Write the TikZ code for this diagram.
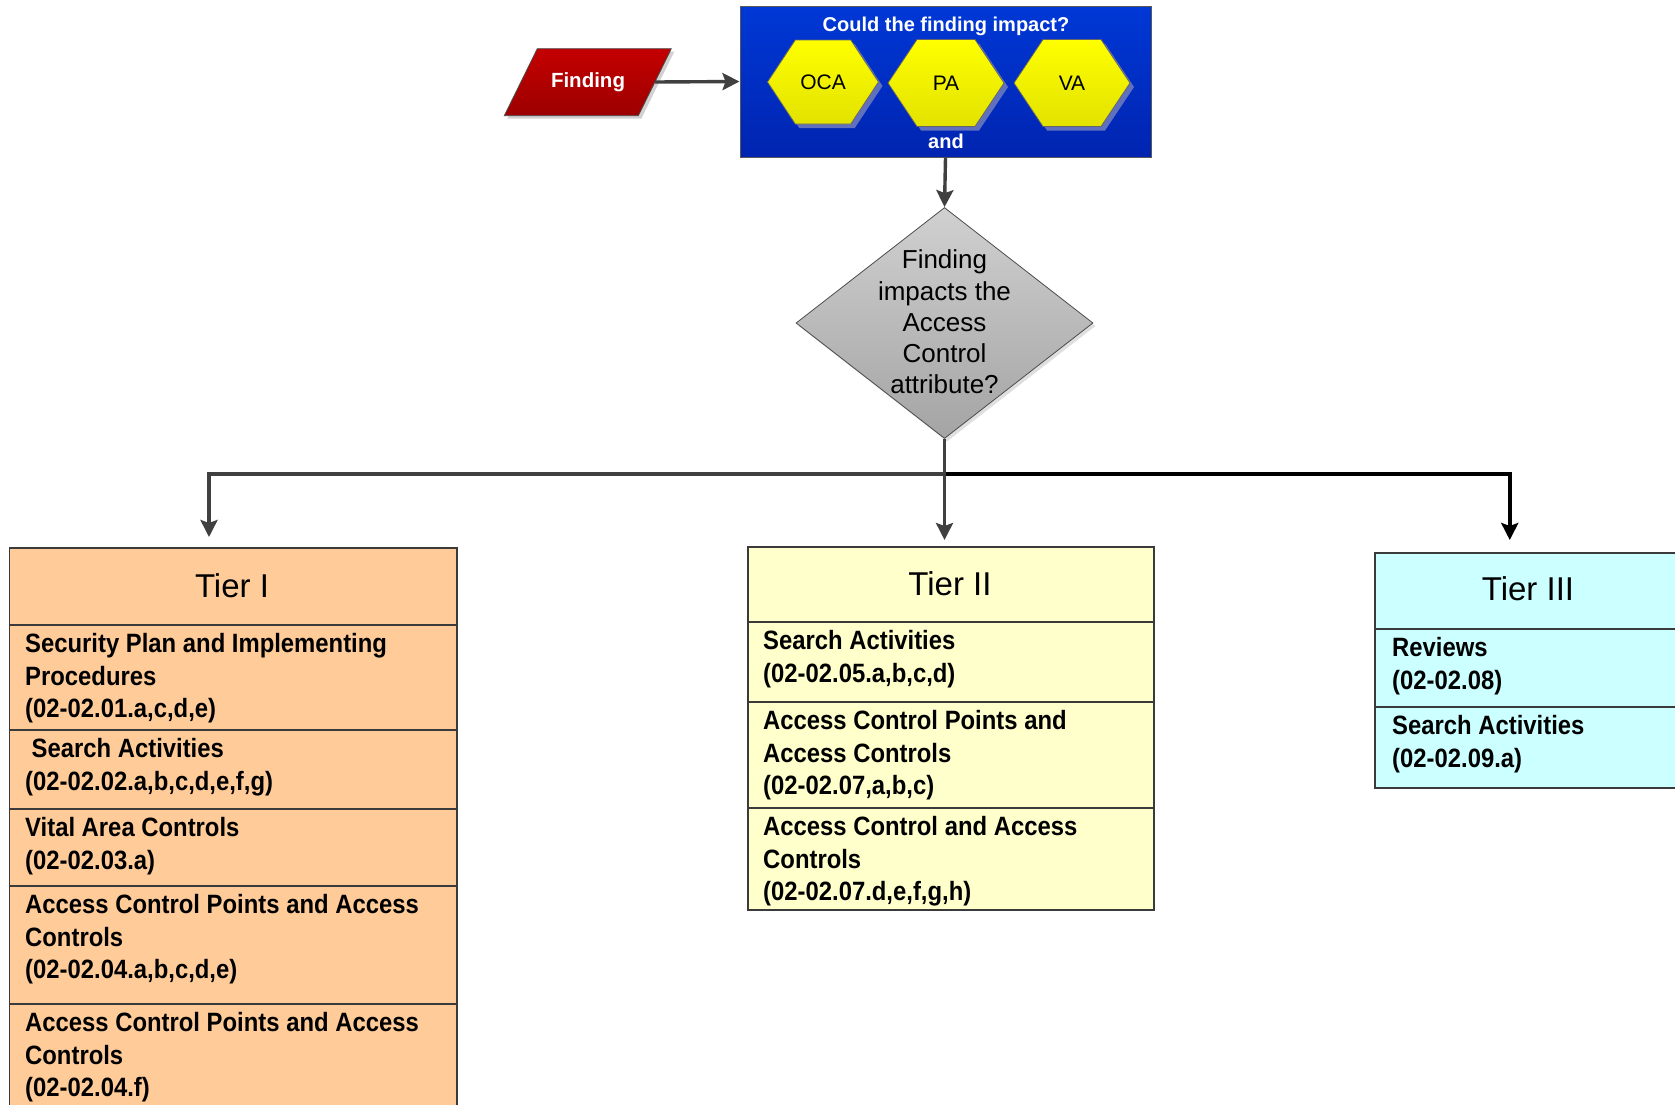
\documentclass[tikz,border=0pt]{standalone}
\usepackage{fontspec}
\setmainfont{Liberation Sans}
\newfontfamily\itemfont[FakeStretch=0.9]{Liberation Sans}
\usetikzlibrary{shapes.geometric,arrows.meta,calc}

\definecolor{peach}{HTML}{FFCC99}
\definecolor{paleyellow}{HTML}{FFFFCC}
\definecolor{palecyan}{HTML}{CCFFFF}
\definecolor{conngray}{HTML}{404040}
\definecolor{boxline}{HTML}{3A3A3A}
\definecolor{qbluetop}{RGB}{0,56,214}
\definecolor{qbluebot}{RGB}{0,36,176}
\definecolor{redtop}{RGB}{196,0,0}
\definecolor{redbot}{RGB}{156,0,0}
\definecolor{hexshadow}{RGB}{96,112,190}

\begin{document}
\begin{tikzpicture}[x=1pt,y=-1pt,
  conn/.style={draw=conngray,line width=3.4pt},
  arr/.style={conn,-{Stealth[length=17pt,width=17pt,inset=3pt]}},
  barr/.style={draw=black,line width=4pt,-{Stealth[length=17pt,width=17pt,inset=3pt]}},
  tierbox/.style={draw=boxline,line width=1.5pt,inner sep=0,anchor=north west},
  divider/.style={draw=boxline,line width=1.5pt},
  % the base anchor of a multi-line node sits on its last line
  itemtext/.style={font=\itemfont\bfseries\fontsize{26.5}{32.5}\selectfont,align=left,inner sep=0,anchor=base west},
  tiertitle/.style={font=\fontsize{33}{40}\selectfont,inner sep=0},
  hextext/.style={font=\fontsize{21}{25}\selectfont,inner sep=0},
  whitebold/.style={font=\bfseries\fontsize{20}{24}\selectfont,text=white,inner sep=0},
  hexfill/.style={top color=yellow,bottom color={rgb,255:red,226;green,226;blue,0},draw=gray!80!black,line width=0.8pt},
]
\useasboundingbox (0,0) rectangle (1675,1104);
\clip (0,0) rectangle (1675,1104);

% ---------- question panel ----------
\node[draw=gray!70!black,line width=1pt,top color=qbluetop,bottom color=qbluebot,
      minimum width=411,minimum height=151,inner sep=0] (qbox) at (945.5,81.5) {};
\node[whitebold] (qtitle) at (946,26) {Could the finding impact?};
\node[whitebold] (qand) at (946,141) {and};

\foreach \nm/\cx/\cy/\w/\h/\lab in {oca/823/82/111/84/OCA,pa/946/83/116/87/PA,va/1072/83/116/87/VA}{
  \fill[hexshadow] ({\cx-\w/2+4},{\cy+4}) -- ({\cx-\w/4+4},{\cy-\h/2+4}) -- ({\cx+\w/4+4},{\cy-\h/2+4})
        -- ({\cx+\w/2+4},{\cy+4}) -- ({\cx+\w/4+4},{\cy+\h/2+4}) -- ({\cx-\w/4+4},{\cy+\h/2+4}) -- cycle;
  \path[hexfill] ({\cx-\w/2},\cy) -- ({\cx-\w/4},{\cy-\h/2}) -- ({\cx+\w/4},{\cy-\h/2})
        -- ({\cx+\w/2},\cy) -- ({\cx+\w/4},{\cy+\h/2}) -- ({\cx-\w/4},{\cy+\h/2}) -- cycle;
  \node[hextext] (\nm) at (\cx,\cy) {\lab};
}

% ---------- finding ----------
\node[minimum width=134,minimum height=67,inner sep=0] (finding) at (588,82) {};
\fill[gray!35] ([xshift=3pt,yshift=-3pt]finding.south west) ++(-16.5,0) -- ++(33,-67) -- ++(134,0) -- ++(-33,67) -- cycle;
\path[draw=gray!60!black,line width=0.8pt,top color=redtop,bottom color=redbot]
  (finding.south west) ++(-16.5,0) -- ++(33,-67) -- ++(134,0) -- ++(-33,67) -- cycle;
\node[whitebold,font=\bfseries\fontsize{20.5}{24}\selectfont] (findingtext) at (finding.center) {Finding};

\draw[arr] (finding.east) -- (qbox.west);

% ---------- decision ----------
\node[diamond,aspect=1.29,minimum width=297,minimum height=231,inner sep=0,fill=gray!25] at (947,326) {};
\node[diamond,aspect=1.29,minimum width=297,minimum height=231,inner sep=0,
      draw=gray!60!black,line width=0.8pt,top color={rgb,255:red,208;green,208;blue,208},
      bottom color={rgb,255:red,164;green,164;blue,164}] (dec) at (944.5,323) {};
\node[font=\fontsize{26}{31.3}\selectfont,align=center,inner sep=0] (dectext) at (944.5,322)
  {Finding\\impacts the\\Access\\Control\\attribute?};

\draw[arr] (qbox.south) -- (dec.north);

% ---------- tiers ----------
\node[tierbox,fill=peach,minimum width=447.5,minimum height=700] (tier1) at (8.5,547) {};
\node[tierbox,fill=paleyellow,minimum width=406,minimum height=363] (tier2) at (747,546) {};
\node[tierbox,fill=palecyan,minimum width=308,minimum height=235] (tier3) at (1374,552) {};

\foreach \y in {625,730,809,886,1004} \draw[divider] (8.5,\y) -- (456,\y);
\foreach \y in {622,702,808} \draw[divider] (747,\y) -- (1153,\y);
\foreach \y in {629,707} \draw[divider] (1374,\y) -- (1682,\y);

\node[tiertitle] (tier1title) at (232,586) {Tier I};
\node[tiertitle] (tier2title) at (950,584) {Tier II};
\node[tiertitle] (tier3title) at (1528,589) {Tier III};

\node[itemtext] (t1a) at (25,717.5) {Security Plan and Implementing\\Procedures\\(02-02.01.a,c,d,e)};
\node[itemtext] (t1b) at (25,790) {\hspace*{6.5pt}Search Activities\\(02-02.02.a,b,c,d,e,f,g)};
\node[itemtext] (t1c) at (25,869) {Vital Area Controls\\(02-02.03.a)};
\node[itemtext] (t1d) at (25,978.5) {Access Control Points and Access\\Controls\\(02-02.04.a,b,c,d,e)};
\node[itemtext] (t1e) at (25,1096.5) {Access Control Points and Access\\Controls\\(02-02.04.f)};

\node[itemtext] (t2a) at (763,682) {Search Activities\\(02-02.05.a,b,c,d)};
\node[itemtext] (t2b) at (763,794.5) {Access Control Points and\\Access Controls\\(02-02.07,a,b,c)};
\node[itemtext] (t2c) at (763,900.5) {Access Control and Access\\Controls\\(02-02.07.d,e,f,g,h)};

\node[itemtext] (t3a) at (1392,689) {Reviews\\(02-02.08)};
\node[itemtext] (t3b) at (1392,767) {Search Activities\\(02-02.09.a)};

% ---------- branching connectors ----------
\coordinate (junc) at (944.5,474);
\draw[barr] (junc) -| ([xshift=-19pt,yshift=12pt]tier3.north);
\draw[conn] (dec.south) -- (junc);
\draw[arr] (junc) -| ([xshift=-24pt,yshift=10pt]tier1.north);
\draw[arr,shorten >=6pt] (junc) -- (junc |- tier2.north);
\end{tikzpicture}
\end{document}
